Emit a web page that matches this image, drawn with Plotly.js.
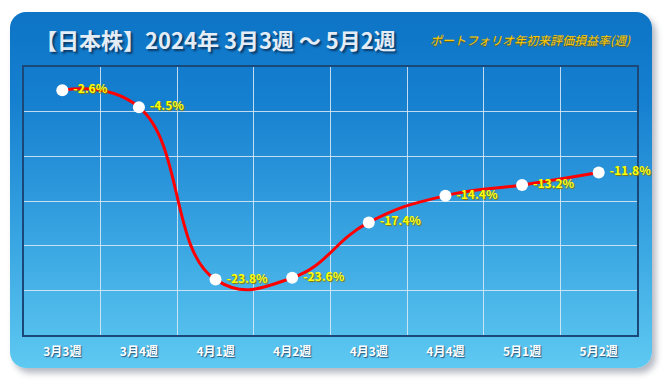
<!DOCTYPE html>
<html><head><meta charset="utf-8">
<script src="https://cdn.plot.ly/plotly-3.0.1.min.js"></script>
<style>
html,body{margin:0;padding:0;background:#fff;width:666px;height:384px;overflow:hidden;}
#card{position:absolute;left:10px;top:12px;width:642px;height:356px;border-radius:16px;
background:linear-gradient(to bottom,#0d74c6 0%,#1680d0 25%,#3aa6e2 65%,#5ec9f1 100%);
box-shadow:4px 5px 6px rgba(90,100,120,0.45);}
#chart{position:absolute;left:0;top:0;width:666px;height:384px;}
</style></head>
<body>
<div id="card"></div>
<div id="chart"></div>
<script>
const categories = ['3月3週','3月4週','4月1週','4月2週','4月3週','4月4週','5月1週','5月2週'];
const values = [-2.6, -4.5, -23.8, -23.6, -17.4, -14.4, -13.2, -11.8];
const labels = values.map(v => '\u2009' + v.toFixed(1) + '%');
const titleText = '【日本株】2024年 3月3週 ～ 5月2週';
const subtitleText = 'ポートフォリオ年初来評価損益率(週)';

const font = '"Noto Sans CJK JP", "Noto Sans", sans-serif';

const trace = {
  x: categories, y: values, type: 'scatter', mode: 'lines+markers+text',
  text: labels, textposition: 'middle right',
  textfont: {family: font, size: 12, color: '#ffff00', weight: 700, shadow: '1px 1px 1px #8a7400'},
  line: {color: '#ff0000', width: 3, shape: 'spline', smoothing: 1.3},
  marker: {color: '#ffffff', size: 12, line: {width: 0}},
  cliponaxis: false, hoverinfo: 'none'
};

const layout = {
  width: 666, height: 384,
  margin: {l: 24, r: 29, t: 67, b: 49},
  paper_bgcolor: 'rgba(0,0,0,0)', plot_bgcolor: 'rgba(0,0,0,0)',
  showlegend: false,
  xaxis: {
    type: 'category', tickson: 'boundaries', showgrid: true,
    gridcolor: 'rgba(225,235,245,0.85)', gridwidth: 1,
    showline: true, linecolor: '#1a4878', linewidth: 2, mirror: true,
    ticks: '', ticklabelstandoff: 5, zeroline: false, layer: 'below traces',
    tickfont: {family: font, size: 12, color: '#ffffff', weight: 700, shadow: '1px 1px 1px #2a5a80'},
    range: [-0.5, 7.5]
  },
  yaxis: {
    range: [-30, 0], dtick: 5, showticklabels: false, ticks: '',
    showgrid: true, gridcolor: 'rgba(225,235,245,0.85)', gridwidth: 1, layer: 'below traces',
    showline: true, linecolor: '#1a4878', linewidth: 2, mirror: true, zeroline: false
  },
  annotations: [
    {text: titleText, xref: 'paper', yref: 'paper', x: 0.015, y: 1.0, xanchor: 'left', yanchor: 'middle',
     yshift: 28, showarrow: false,
     font: {family: font, size: 22, color: '#e4edf6', weight: 700, shadow: '2px 2px 2px #0a3a66'}},
    {text: '<i>' + subtitleText + '</i>', xref: 'paper', yref: 'paper', x: 0.993, y: 1.0, xanchor: 'right', yanchor: 'middle',
     yshift: 28, showarrow: false,
     font: {family: font, size: 12, color: '#ffcc00', shadow: '0px 1px 1px #7a5a00'}}
  ]
};

Plotly.newPlot('chart', [trace], layout, {displayModeBar: false, staticPlot: true});
</script>
</body></html>
